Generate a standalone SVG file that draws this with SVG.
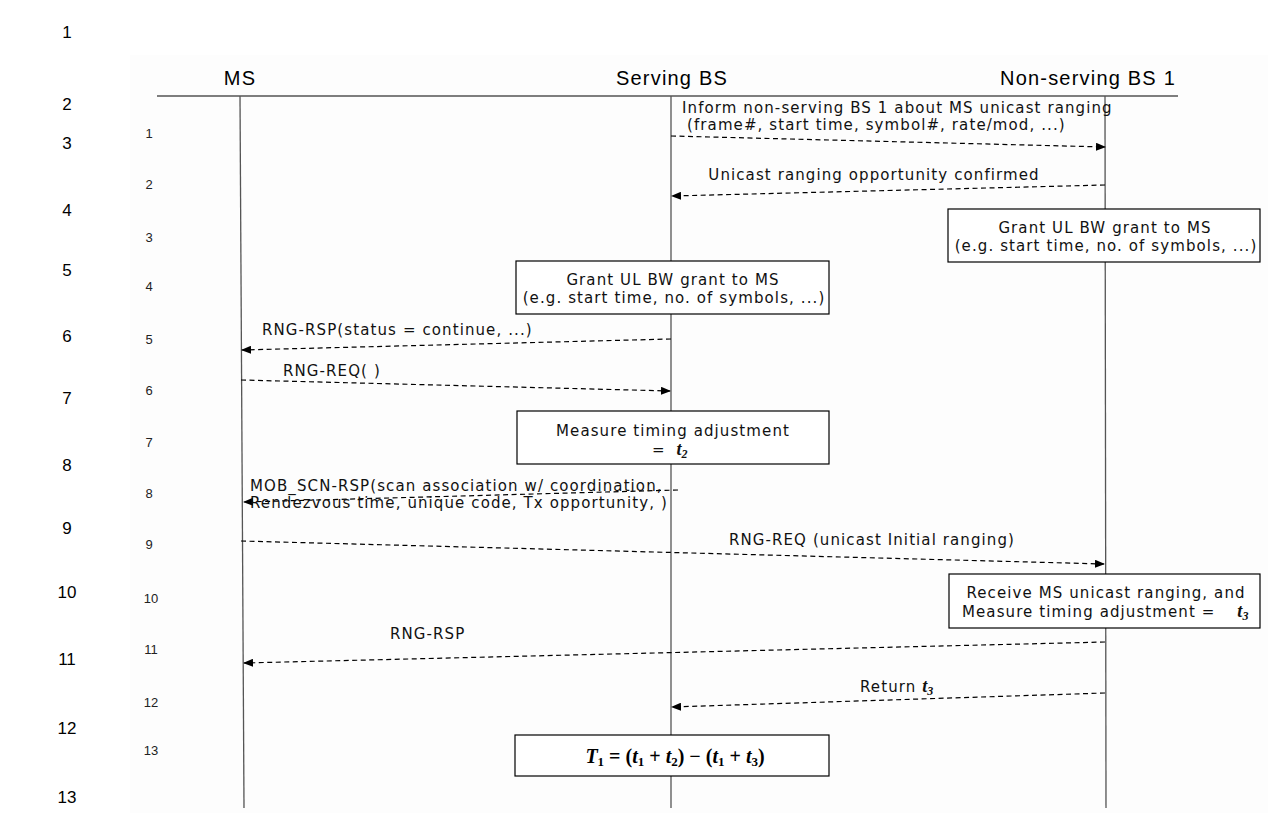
<svg xmlns="http://www.w3.org/2000/svg" width="1268" height="834" viewBox="0 0 1268 834">
<defs>
<marker id="ah" markerWidth="10" markerHeight="8" refX="9" refY="4" orient="auto" markerUnits="userSpaceOnUse">
<path d="M0,0 L10,4 L0,8 z" fill="#000"/>
</marker>
<style>
.ln{font-family:"Liberation Sans",Arial,sans-serif;font-size:17px;fill:#000}
.hd{font-family:"Liberation Sans",Arial,sans-serif;font-size:20px;letter-spacing:1.2px;fill:#000}
.st{font-family:"Liberation Sans",Arial,sans-serif;font-size:13px;fill:#222}
.tx{font-family:"DejaVu Sans",Verdana,sans-serif;font-size:15px;letter-spacing:1.1px;fill:#111}
.m{font-family:"Liberation Serif","Times New Roman",serif;font-weight:bold;font-style:italic;letter-spacing:0}
.life{stroke:#555;stroke-width:1.3;fill:none}
.msg{stroke:#000;stroke-width:1.2;stroke-dasharray:5,3.5;fill:none;marker-end:url(#ah)}
.box{fill:#fff;stroke:#000;stroke-width:1.2}
</style>
</defs>
<rect width="1268" height="834" fill="#fff"/>
<rect x="130" y="55" width="1138" height="758" fill="#fdfdfd"/>
<g id="linenumbers">
<text class="ln" x="67" y="38" text-anchor="middle">1</text>
<text class="ln" x="67" y="110" text-anchor="middle">2</text>
<text class="ln" x="67" y="149" text-anchor="middle">3</text>
<text class="ln" x="67" y="216" text-anchor="middle">4</text>
<text class="ln" x="67" y="276" text-anchor="middle">5</text>
<text class="ln" x="67" y="342" text-anchor="middle">6</text>
<text class="ln" x="67" y="404" text-anchor="middle">7</text>
<text class="ln" x="67" y="471" text-anchor="middle">8</text>
<text class="ln" x="67" y="534" text-anchor="middle">9</text>
<text class="ln" x="67" y="598" text-anchor="middle">10</text>
<text class="ln" x="67" y="665" text-anchor="middle">11</text>
<text class="ln" x="67" y="734" text-anchor="middle">12</text>
<text class="ln" x="67" y="803" text-anchor="middle">13</text>
</g>
<g id="steps">
<text class="st" x="149" y="138" text-anchor="middle">1</text>
<text class="st" x="149" y="189" text-anchor="middle">2</text>
<text class="st" x="149" y="242" text-anchor="middle">3</text>
<text class="st" x="149" y="291" text-anchor="middle">4</text>
<text class="st" x="149" y="344" text-anchor="middle">5</text>
<text class="st" x="149" y="395" text-anchor="middle">6</text>
<text class="st" x="149" y="447" text-anchor="middle">7</text>
<text class="st" x="149" y="498" text-anchor="middle">8</text>
<text class="st" x="149" y="549" text-anchor="middle">9</text>
<text class="st" x="151" y="603" text-anchor="middle">10</text>
<text class="st" x="151" y="654" text-anchor="middle">11</text>
<text class="st" x="151" y="707" text-anchor="middle">12</text>
<text class="st" x="151" y="755" text-anchor="middle">13</text>
</g>
<g id="header">
<line x1="157" y1="96" x2="1178" y2="96" stroke="#000" stroke-width="1.2"/>
<text class="hd" x="240" y="85" text-anchor="middle">MS</text>
<text class="hd" x="672" y="85" text-anchor="middle">Serving BS</text>
<text class="hd" x="1088" y="85" text-anchor="middle">Non-serving BS 1</text>
</g>
<g id="lifeline-ms"><line class="life" x1="240" y1="96" x2="244" y2="808"/></g>
<g id="lifeline-serving"><line class="life" x1="671" y1="96" x2="671" y2="808"/></g>
<g id="lifeline-nonserving"><line class="life" x1="1105" y1="96" x2="1106" y2="808"/></g>
<g id="connectors">
<line class="msg" x1="671" y1="136" x2="1105" y2="147"/>
<line class="msg" x1="1105" y1="185" x2="672" y2="196"/>
<line class="msg" x1="671" y1="339" x2="242" y2="350"/>
<line class="msg" x1="241" y1="380" x2="670" y2="391"/>
<line class="msg" x1="678" y1="490" x2="244" y2="502"/>
<line class="msg" x1="241" y1="541" x2="1104" y2="564"/>
<line class="msg" x1="1105" y1="642" x2="244" y2="663"/>
<line class="msg" x1="1105" y1="693" x2="672" y2="707"/>
</g>
<g id="msg-labels">
<text class="tx" x="682" y="113">Inform non-serving BS 1 about MS unicast ranging</text>
<text class="tx" x="687" y="130">(frame#, start time, symbol#, rate/mod, ...)</text>
<text class="tx" x="874" y="180" text-anchor="middle">Unicast ranging opportunity confirmed</text>
<text class="tx" x="262" y="335">RNG-RSP(status = continue, ...)</text>
<text class="tx" x="283" y="376">RNG-REQ( )</text>
<text class="tx" x="250" y="491">MOB_SCN-RSP(scan association w/ coordination,</text>
<text class="tx" x="250" y="508">Rendezvous time, unique code, Tx opportunity, )</text>
<text class="tx" x="872" y="545" text-anchor="middle">RNG-REQ (unicast Initial ranging)</text>
<text class="tx" x="390" y="639">RNG-RSP</text>
<text class="tx" x="860" y="692">Return <tspan class="m" font-size="18">t</tspan><tspan class="m" font-size="12" dy="3">3</tspan></text>
</g>
<g id="box3">
<rect class="box" x="948" y="209" width="312" height="53"/>
<text class="tx" x="1105" y="233" text-anchor="middle">Grant UL BW grant to MS</text>
<text class="tx" x="1106" y="251" text-anchor="middle">(e.g. start time, no. of symbols, ...)</text>
</g>
<g id="box4">
<rect class="box" x="516" y="261" width="313" height="53"/>
<text class="tx" x="673" y="285" text-anchor="middle">Grant UL BW grant to MS</text>
<text class="tx" x="674" y="303" text-anchor="middle">(e.g. start time, no. of symbols, ...)</text>
</g>
<g id="box7">
<rect class="box" x="517" y="411" width="312" height="53"/>
<text class="tx" x="673" y="436" text-anchor="middle">Measure timing adjustment</text>
<text class="tx" x="652" y="455">= <tspan class="m" font-size="18" dx="5">t</tspan><tspan class="m" font-size="12" dy="3">2</tspan></text>
</g>
<g id="box10">
<rect class="box" x="949" y="574" width="311" height="54"/>
<text class="tx" x="1106" y="598" text-anchor="middle">Receive MS unicast ranging, and</text>
<text class="tx" x="962" y="617">Measure timing adjustment = <tspan class="m" font-size="18" dx="16">t</tspan><tspan class="m" font-size="12" dy="3">3</tspan></text>
</g>
<g id="box13">
<rect class="box" x="515" y="735" width="314" height="41"/>
<text x="675" y="763" text-anchor="middle" font-family="Liberation Serif,serif" font-size="20" font-weight="bold"><tspan class="m">T</tspan><tspan font-size="13" dy="3">1</tspan><tspan dy="-3"> = (</tspan><tspan class="m">t</tspan><tspan font-size="13" dy="3">1</tspan><tspan dy="-3"> + </tspan><tspan class="m">t</tspan><tspan font-size="13" dy="3">2</tspan><tspan dy="-3">) − (</tspan><tspan class="m">t</tspan><tspan font-size="13" dy="3">1</tspan><tspan dy="-3"> + </tspan><tspan class="m">t</tspan><tspan font-size="13" dy="3">3</tspan><tspan dy="-3">)</tspan></text>
</g>
</svg>
